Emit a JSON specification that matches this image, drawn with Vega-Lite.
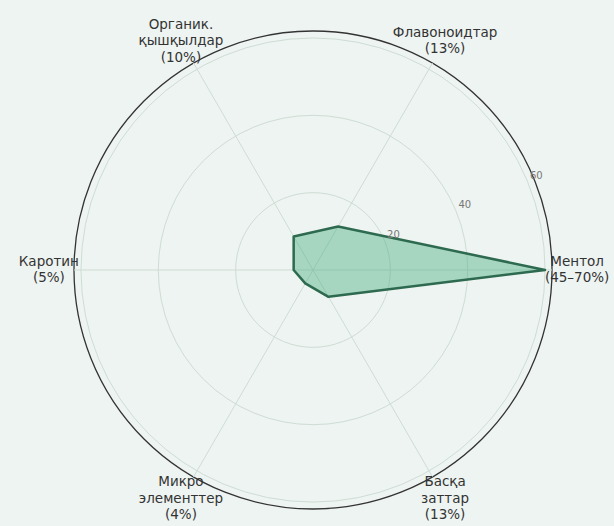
{
  "$schema": "https://vega.github.io/schema/vega-lite/v6.json",
  "width": 478,
  "height": 478,
  "autosize": {"type": "none"},
  "padding": {"left": 74, "top": 31, "right": 62, "bottom": 17},
  "background": "#eef4f1",
  "config": {"view": {"stroke": null}, "font": "DejaVu Sans"},
  "datasets": {
    "comp": [
      {"component": "Ментол", "label": "Ментол\n(45–70%)", "value": 60, "idx": 0, "lines": 2},
      {"component": "Флавоноидтар", "label": "Флавоноидтар\n(13%)", "value": 13, "idx": 1, "lines": 2},
      {"component": "Органик. қышқылдар", "label": "Органик.\nқышқылдар\n(10%)", "value": 10, "idx": 2, "lines": 3},
      {"component": "Каротин", "label": "Каротин\n(5%)", "value": 5, "idx": 3, "lines": 2},
      {"component": "Микроэлементтер", "label": "Микро\nэлементтер\n(4%)", "value": 4, "idx": 4, "lines": 3},
      {"component": "Басқа заттар", "label": "Басқа\nзаттар\n(13%)", "value": 8, "idx": 5, "lines": 3}
    ],
    "grid": [{"r": 20, "kind": "grid"}, {"r": 40, "kind": "grid"}, {"r": 60, "kind": "grid"}, {"r": 61.8, "kind": "frame"}]
  },
  "resolve": {"scale": {"size": "independent", "stroke": "independent"}},
  "layer": [
    {
      "data": {"name": "grid"},
      "transform": [
        {"calculate": "0", "as": "cx"},
        {"calculate": "0", "as": "cy"}
      ],
      "mark": {"type": "point", "shape": "circle", "filled": false, "opacity": 1},
      "encoding": {
        "x": {"field": "cx", "type": "quantitative", "scale": {"domain": [-61.8, 61.8], "nice": false, "zero": false}, "axis": null},
        "y": {"field": "cy", "type": "quantitative", "scale": {"domain": [-61.8, 61.8], "nice": false, "zero": false}, "axis": null},
        "size": {"field": "r", "type": "quantitative", "scale": {"type": "pow", "exponent": 2, "domain": [0, 61.8], "range": [0, 228484], "zero": true, "nice": false}, "legend": null},
        "stroke": {"field": "kind", "type": "nominal", "scale": {"domain": ["grid", "frame"], "range": ["#cfdcd5", "#333333"]}, "legend": null},
        "strokeWidth": {"field": "kind", "type": "nominal", "scale": {"domain": ["grid", "frame"], "range": [1, 1.3]}, "legend": null}
      }
    },
    {
      "data": {"name": "comp"},
      "transform": [
        {"calculate": "0", "as": "ox"},
        {"calculate": "0", "as": "oy"},
        {"calculate": "61.8*cos(datum.idx*PI/3)", "as": "sx"},
        {"calculate": "61.8*sin(datum.idx*PI/3)", "as": "sy"}
      ],
      "mark": {"type": "rule", "stroke": "#cfdcd5", "strokeWidth": 1},
      "encoding": {
        "x": {"field": "ox", "type": "quantitative"},
        "y": {"field": "oy", "type": "quantitative"},
        "x2": {"field": "sx"},
        "y2": {"field": "sy"}
      }
    },
    {
      "data": {"name": "comp"},
      "transform": [
        {"calculate": "datum.value*cos(datum.idx*PI/3)", "as": "px"},
        {"calculate": "datum.value*sin(datum.idx*PI/3)", "as": "py"}
      ],
      "mark": {"type": "line", "interpolate": "linear-closed", "fill": "#3aaa75", "fillOpacity": 0.4, "stroke": "#2d6a4f", "strokeWidth": 2.5, "strokeJoin": "round"},
      "encoding": {
        "x": {"field": "px", "type": "quantitative"},
        "y": {"field": "py", "type": "quantitative"},
        "order": {"field": "idx", "type": "quantitative"}
      }
    },
    {
      "data": {"name": "grid"},
      "transform": [
        {"filter": "datum.kind === 'grid'"},
        {"calculate": "(datum.r+2.5)*cos(PI/8)", "as": "tx"},
        {"calculate": "(datum.r+2.5)*sin(PI/8)", "as": "ty"}
      ],
      "mark": {"type": "text", "fontSize": 10, "color": "#777777", "align": "center", "baseline": "middle", "dy": -2},
      "encoding": {
        "x": {"field": "tx", "type": "quantitative"},
        "y": {"field": "ty", "type": "quantitative"},
        "text": {"field": "r", "type": "quantitative"}
      }
    },
    {
      "data": {"name": "comp"},
      "transform": [
        {"filter": "datum.lines === 2"},
        {"calculate": "68.3*cos(datum.idx*PI/3)", "as": "lx"},
        {"calculate": "68.3*sin(datum.idx*PI/3)", "as": "ly"}
      ],
      "mark": {"type": "text", "fontSize": 13.5, "color": "#333333", "align": "center", "baseline": "middle", "lineBreak": "\n", "lineHeight": 16, "dy": -8},
      "encoding": {
        "x": {"field": "lx", "type": "quantitative"},
        "y": {"field": "ly", "type": "quantitative"},
        "text": {"field": "label", "type": "nominal"}
      }
    },
    {
      "data": {"name": "comp"},
      "transform": [
        {"filter": "datum.lines === 3"},
        {"calculate": "68.3*cos(datum.idx*PI/3)", "as": "lx"},
        {"calculate": "68.3*sin(datum.idx*PI/3)", "as": "ly"}
      ],
      "mark": {"type": "text", "fontSize": 13.5, "color": "#333333", "align": "center", "baseline": "middle", "lineBreak": "\n", "lineHeight": 16.5, "dy": -16.5},
      "encoding": {
        "x": {"field": "lx", "type": "quantitative"},
        "y": {"field": "ly", "type": "quantitative"},
        "text": {"field": "label", "type": "nominal"}
      }
    }
  ]
}
